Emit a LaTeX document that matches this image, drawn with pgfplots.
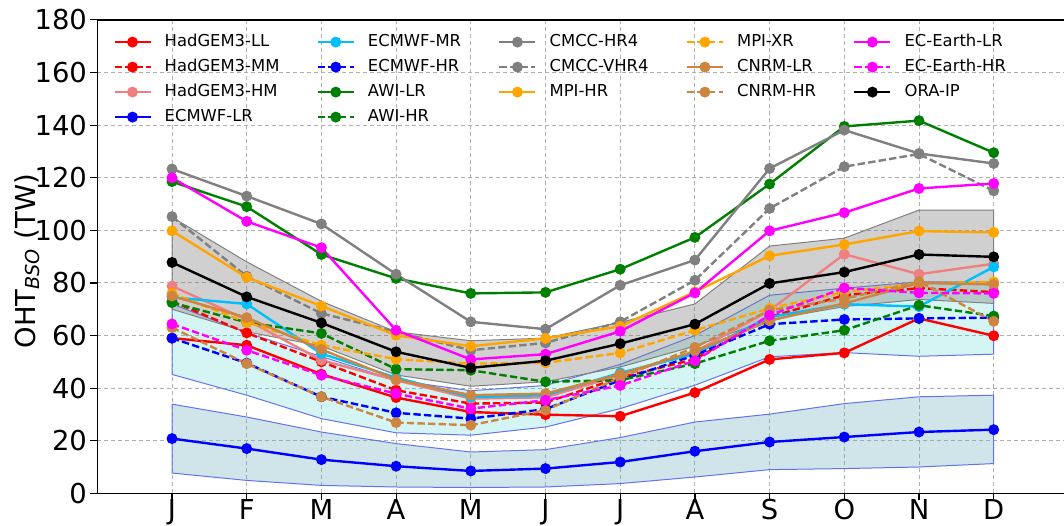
\documentclass[border=0pt]{standalone}
\usepackage{fontspec}
\setmainfont{DejaVu Sans}
\usepackage{pgfplots}
\usepackage{pgfplotstable}
\pgfplotsset{compat=1.18}
\usepgfplotslibrary{fillbetween}
\definecolor{cred}{RGB}{255,0,0}
\definecolor{ccoral}{RGB}{240,128,128}
\definecolor{cblue}{RGB}{0,0,255}
\definecolor{csky}{RGB}{0,191,255}
\definecolor{cgreen}{RGB}{0,128,0}
\definecolor{cgray}{RGB}{128,128,128}
\definecolor{corange}{RGB}{255,165,0}
\definecolor{cperu}{RGB}{205,133,63}
\definecolor{cmag}{RGB}{255,0,255}
\definecolor{bandblue}{RGB}{95,168,185}
\definecolor{bandcyan}{RGB}{45,205,205}
\definecolor{bandgray}{RGB}{121,121,121}
\definecolor{edgeblue}{RGB}{100,115,235}
\definecolor{gridc}{RGB}{176,176,176}

\pgfplotstableread{
m HGLL HGMM HGHM ECLR ECMR ECHR AWLR AWHR CMHR CMVH MPHR MPXR CNLR CNHR EELR EEHR ORA
1 59.0 73.0 78.8 20.8 74.5 59.0 118.5 72.5 123.3 105.2 99.8 76.0 75.0 63.0 120.0 64.4 87.8
2 56.3 61.0 66.0 17.0 72.0 49.5 109.0 65.0 113.0 82.5 82.1 65.0 66.8 49.3 103.4 54.4 74.7
3 45.3 50.0 50.6 12.8 53.1 36.7 90.8 60.8 102.4 68.4 71.2 56.3 54.7 36.7 93.4 44.9 64.8
4 36.4 39.2 43.0 10.3 44.0 30.6 81.7 47.2 83.3 61.4 60.1 51.0 43.3 26.9 62.0 37.9 53.8
5 30.9 34.1 36.0 8.5 36.6 28.4 76.0 46.8 65.2 54.4 55.9 49.3 37.3 25.9 50.9 32.2 47.7
6 29.9 34.5 36.5 9.4 37.3 32.0 76.4 42.4 62.4 57.2 58.9 49.6 37.9 31.6 52.9 35.4 50.4
7 29.3 44.0 44.9 11.9 45.8 43.0 85.2 43.0 79.1 65.2 63.5 53.4 45.3 44.0 61.6 41.0 56.9
8 38.3 51.0 53.8 16.0 53.0 52.5 97.3 49.3 88.7 81.0 76.6 62.0 54.0 55.5 76.2 50.4 64.3
9 50.9 67.0 69.6 19.5 67.0 64.3 117.6 58.0 123.5 108.3 90.3 70.3 65.6 69.6 99.8 67.7 79.8
10 53.4 75.3 90.9 21.4 71.9 66.1 139.5 62.0 138.1 124.2 94.6 76.6 72.2 74.0 106.7 78.1 84.1
11 66.5 78.0 83.3 23.3 71.0 66.5 141.7 71.5 129.2 129.0 99.7 79.8 80.0 80.5 115.9 76.2 90.8
12 59.9 76.5 87.3 24.2 86.1 66.8 129.5 67.4 125.4 115.0 99.2 80.4 79.4 65.4 117.8 76.0 89.9
}\data

\pgfplotstableread{
m GT GB CT CB BT BB
1 105.0 70.0 72.0 45.2 33.9 7.7
2 88.0 61.4 61.0 37.3 29.0 4.9
3 73.0 56.0 52.0 28.4 23.3 3.0
4 61.4 45.0 43.0 23.0 18.9 2.4
5 58.0 40.7 39.0 22.1 15.7 2.2
6 59.0 42.4 41.0 25.2 16.6 2.4
7 65.0 48.0 49.0 32.2 21.2 3.7
8 72.0 56.0 60.0 41.1 27.1 6.2
9 94.0 66.0 75.3 51.9 30.1 9.0
10 97.0 71.0 78.0 53.5 34.1 9.4
11 107.7 73.7 80.4 52.1 36.7 10.0
12 107.7 72.2 80.4 52.9 37.3 11.3
}\bands

\pgfplotsset{
  ser/.style={line width=1.2pt, mark=*, mark size=2.1pt, mark options={solid}},
  dsh/.style={dash pattern=on 3.7pt off 1.6pt},
}

\begin{document}
\begin{tikzpicture}
\begin{axis}[
  scale only axis, width=485.55pt, height=236.7pt,
  xmin=0, xmax=13, ymin=0, ymax=180,
  xtick={1,...,12}, xticklabels={J,F,M,A,M,J,J,A,S,O,N,D},
  ytick={0,20,...,180},
  tick align=outside, tick pos=left,
  major tick length=3.5pt,
  tick style={black, line width=0.6pt},
  axis line style={line width=0.7pt},
  grid=major,
  grid style={gridc, line width=0.45pt, dash pattern=on 2pt off 1.5pt},
  ticklabel style={font=\fontsize{13.7}{16}\selectfont},
  xticklabel style={inner sep=0pt, yshift=0.8pt},
  yticklabel style={inner sep=0pt, xshift=-1.5pt},
  /pgf/number format/assume math mode=true,
  ylabel={OHT\textsubscript{\textit{BSO}} (TW)},
  ylabel style={font=\fontsize{13.7}{16}\selectfont, at={(ticklabel cs:0.49)}, anchor=near ticklabel, inner sep=0pt, yshift=-3pt},
  legend columns=5,
  legend cell align=left,
  legend image code/.code={\draw[mark repeat=2,mark phase=2,#1] plot coordinates {(0pt,0pt) (9pt,0pt) (18pt,0pt)};},
  legend style={at={(axis description cs:0.0165,0.970)}, anchor=north west, draw=none, fill=none,
    inner sep=0pt, outer sep=0pt, font=\fontsize{8.2}{9.8}\selectfont,
    nodes={inner sep=0pt, text height=6.2pt, text depth=1.8pt},
    row sep=4.5pt, column sep=6.5pt,
    /tikz/every even column/.append style={column sep=18.6pt}},
]
% bands
\addplot[name path=bt, draw=none, forget plot] table[x=m,y=BT]{\bands};
\addplot[name path=bb, draw=none, forget plot] table[x=m,y=BB]{\bands};
\addplot[fill=bandblue, fill opacity=0.3, draw=edgeblue, line width=0.5pt, forget plot] fill between[of=bt and bb];
\addplot[name path=ct, draw=none, forget plot] table[x=m,y=CT]{\bands};
\addplot[name path=cb, draw=none, forget plot] table[x=m,y=CB]{\bands};
\addplot[fill=bandcyan, fill opacity=0.2, draw=edgeblue, line width=0.5pt, forget plot] fill between[of=ct and cb];
\addplot[name path=gt, draw=none, forget plot] table[x=m,y=GT]{\bands};
\addplot[name path=gb, draw=none, forget plot] table[x=m,y=GB]{\bands};
\addplot[fill=bandgray, fill opacity=0.35, draw=cgray, line width=0.5pt, forget plot] fill between[of=gt and gb];

% series
\addplot[ser, cred, forget plot] table[x=m,y=HGLL]{\data};
\addplot[ser, dsh, cred, forget plot] table[x=m,y=HGMM]{\data};
\addplot[ser, ccoral, forget plot] table[x=m,y=HGHM]{\data};
\addplot[ser, cblue, forget plot] table[x=m,y=ECLR]{\data};
\addplot[ser, csky, forget plot] table[x=m,y=ECMR]{\data};
\addplot[ser, dsh, cblue, forget plot] table[x=m,y=ECHR]{\data};
\addplot[ser, cgreen, forget plot] table[x=m,y=AWLR]{\data};
\addplot[ser, dsh, cgreen, forget plot] table[x=m,y=AWHR]{\data};
\addplot[ser, cgray, forget plot] table[x=m,y=CMHR]{\data};
\addplot[ser, dsh, cgray, forget plot] table[x=m,y=CMVH]{\data};
\addplot[ser, corange, forget plot] table[x=m,y=MPHR]{\data};
\addplot[ser, dsh, corange, forget plot] table[x=m,y=MPXR]{\data};
\addplot[ser, cperu, forget plot] table[x=m,y=CNLR]{\data};
\addplot[ser, dsh, cperu, forget plot] table[x=m,y=CNHR]{\data};
\addplot[ser, cmag, forget plot] table[x=m,y=EELR]{\data};
\addplot[ser, dsh, cmag, forget plot] table[x=m,y=EEHR]{\data};
\addplot[ser, black, forget plot] table[x=m,y=ORA]{\data};

% legend (row-major order to mimic column-major layout)
\addlegendimage{ser, cred}\addlegendentry{HadGEM3-LL}
\addlegendimage{ser, csky}\addlegendentry{ECMWF-MR}
\addlegendimage{ser, cgray}\addlegendentry{CMCC-HR4}
\addlegendimage{ser, dsh, corange}\addlegendentry{MPI-XR}
\addlegendimage{ser, cmag}\addlegendentry{EC-Earth-LR}
\addlegendimage{ser, dsh, cred}\addlegendentry{HadGEM3-MM}
\addlegendimage{ser, dsh, cblue}\addlegendentry{ECMWF-HR}
\addlegendimage{ser, dsh, cgray}\addlegendentry{CMCC-VHR4}
\addlegendimage{ser, cperu}\addlegendentry{CNRM-LR}
\addlegendimage{ser, dsh, cmag}\addlegendentry{EC-Earth-HR}
\addlegendimage{ser, ccoral}\addlegendentry{HadGEM3-HM}
\addlegendimage{ser, cgreen}\addlegendentry{AWI-LR}
\addlegendimage{ser, corange}\addlegendentry{MPI-HR}
\addlegendimage{ser, dsh, cperu}\addlegendentry{CNRM-HR}
\addlegendimage{ser, black}\addlegendentry{ORA-IP}
\addlegendimage{ser, cblue}\addlegendentry{ECMWF-LR}
\addlegendimage{ser, dsh, cgreen}\addlegendentry{AWI-HR}
\end{axis}
\pgfresetboundingbox
\path[use as bounding box] ([xshift=-48.65pt,yshift=-15.85pt]current axis.south west) rectangle ([xshift=-2.2pt,yshift=9.95pt]current axis.north east);
\end{tikzpicture}
\end{document}
